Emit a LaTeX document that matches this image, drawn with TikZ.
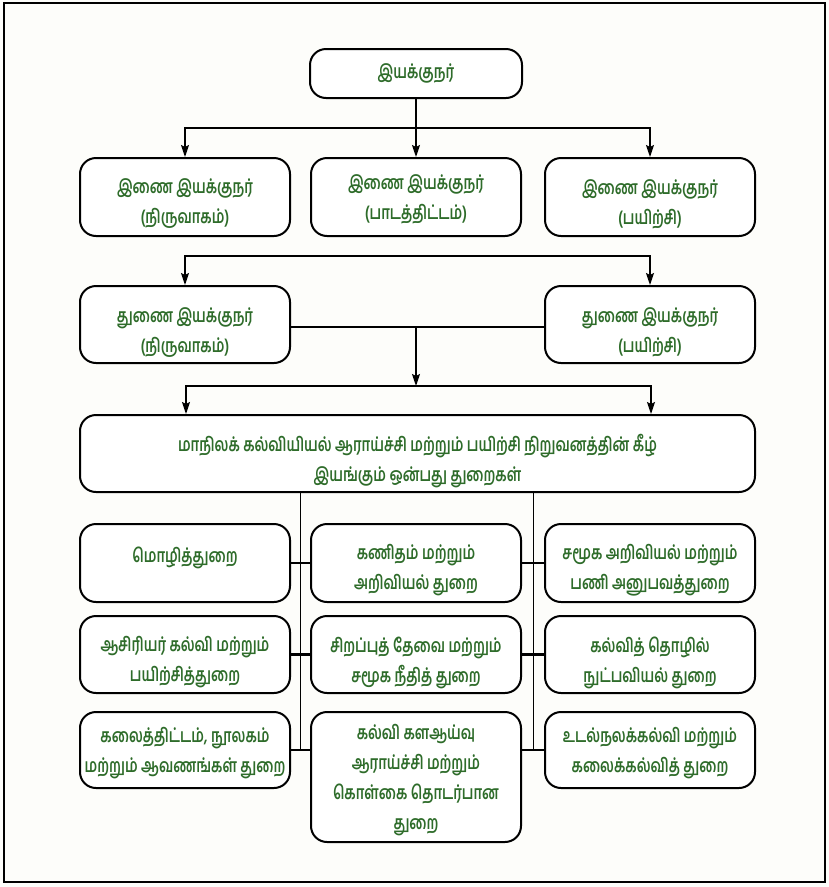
\documentclass[tikz,border=0pt]{standalone}
\usepackage{fontspec}
\newfontfamily\tam[Script=Tamil,FakeStretch=0.73]{Hind Madurai}
\usetikzlibrary{arrows.meta}
\definecolor{txtgreen}{RGB}{46,108,42}
\definecolor{bgpaper}{RGB}{253,253,250}
\newcommand{\dn}[2][6pt]{\raisebox{-#1}[\height][\depth]{#2}}
\begin{document}
\begin{tikzpicture}[x=1pt,y=-1pt,
  box/.style={draw=black,line width=2pt,rounded corners=16pt,fill=white,
    align=center,text=txtgreen,font=\tam\bfseries\fontsize{19}{30}\selectfont,inner sep=0pt},
  wbox/.style={box,minimum width=210pt},
  arr/.style={-{Stealth[length=12pt,width=8pt,inset=2pt]},line width=1.6pt},
  conn/.style={line width=1.6pt},
  thin/.style={line width=1pt},
  stub/.style={line width=2.2pt}]
\useasboundingbox (0,0) rectangle (829,887);
\fill[bgpaper] (0,0) rectangle (829,887);
\draw[line width=2.5pt] (4,3) rectangle (825,882);
% top
\node[box,minimum width=212pt,minimum height=49pt] (top) at (416,73.5) {இயக்குநர்};
% row 2
\node[wbox,minimum height=78pt] (j1) at (185,197) {\dn[7pt]{இணை இயக்குநர்}\\\dn[7pt]{(நிருவாகம்)}};
\node[wbox,minimum height=78pt] (j2) at (416,197) {\dn[2pt]{இணை இயக்குநர்}\\\dn[2pt]{(பாடத்திட்டம்)}};
\node[wbox,minimum height=78pt] (j3) at (650,197) {\dn[7pt]{இணை இயக்குநர்}\\\dn[7pt]{(பயிற்சி)}};
% row 3
\node[wbox,minimum height=77pt] (d1) at (185,324.5) {\dn[8pt]{துணை இயக்குநர்}\\\dn[8pt]{(நிருவாகம்)}};
\node[wbox,minimum height=77pt] (d2) at (650,324.5) {\dn[8pt]{துணை இயக்குநர்}\\\dn[8pt]{(பயிற்சி)}};
% big
\node[box,minimum width=675pt,minimum height=77pt] (big) at (417.5,453.5) {\dn[8pt]{மாநிலக் கல்வியியல் ஆராய்ச்சி மற்றும் பயிற்சி நிறுவனத்தின் கீழ்}\\\dn[8pt]{இயங்கும் ஒன்பது துறைகள்}};
% row 4
\node[wbox,minimum height=78pt] (a1) at (185,563) {\dn[-5pt]{மொழித்துறை}};
\node[wbox,minimum height=78pt] (a2) at (416,563) {\dn[7pt]{கணிதம் மற்றும்}\\\dn[7pt]{அறிவியல் துறை}};
\node[wbox,minimum height=78pt] (a3) at (650,563) {\dn[7pt]{சமூக அறிவியல் மற்றும்}\\\dn[7pt]{பணி அனுபவத்துறை}};
% row 5
\node[wbox,minimum height=77pt] (b1) at (185,654.5) {\dn[8pt]{ஆசிரியர் கல்வி மற்றும்}\\\dn[8pt]{பயிற்சித்துறை}};
\node[wbox,minimum height=77pt] (b2) at (416,654.5) {\dn[8pt]{சிறப்புத் தேவை மற்றும்}\\\dn[8pt]{சமூக நீதித் துறை}};
\node[wbox,minimum height=77pt] (b3) at (650,654.5) {\dn[8pt]{கல்வித் தொழில்}\\\dn[8pt]{நுட்பவியல் துறை}};
% row 6
\node[wbox,minimum height=76pt] (c1) at (185,750) {\dn[3pt]{கலைத்திட்டம், நூலகம்}\\\dn[3pt]{மற்றும் ஆவணங்கள் துறை}};
\node[wbox,minimum height=130pt] (c2) at (416,777) {\dn[3pt]{கல்வி களஆய்வு}\\\dn[3pt]{ஆராய்ச்சி மற்றும்}\\\dn[3pt]{கொள்கை தொடர்பான}\\\dn[3pt]{துறை}};
\node[wbox,minimum height=76pt] (c3) at (650,750) {\dn[3pt]{உடல்நலக்கல்வி மற்றும்}\\\dn[3pt]{கலைக்கல்வித் துறை}};
% connectors level 1
\coordinate (k1) at (416,128);
\draw[conn] (top.south) -- (k1);
\draw[arr] (k1) -- (j2.north);
\draw[arr] (k1) -| (j1.north);
\draw[arr] (k1) -| (j3.north);
% level 2 (floating bar)
\coordinate (k2) at (416,256);
\draw[arr] (k2) -| (d1.north);
\draw[arr] (k2) -| (d2.north);
% level 3
\coordinate (k3) at (416,327);
\coordinate (k4) at (416,386);
\draw[conn] (d1.east |- k3) -- (d2.west |- k3);
\draw[arr] (k3) -- (k4);
\draw[arr] (k4) -| ([xshift=-231.5pt]big.north);
\draw[arr] (k4) -| ([xshift=233.5pt]big.north);
% vertical spines
\coordinate (s1) at (300,750);
\coordinate (s2) at (533,750);
\draw[thin] (big.south -| s1) -- (s1);
\draw[thin] (big.south -| s2) -- (s2);
% stubs
\draw[stub] (a1.east) -- (a2.west);
\draw[stub] (a2.east) -- (a3.west);
\draw[stub] (b1.east) -- (b2.west);
\draw[stub] (b2.east) -- (b3.west);
\draw[stub] (c1.east) -- (c1.east -| c2.west);
\draw[stub] (c3.west) -- (c3.west -| c2.east);
\end{tikzpicture}
\end{document}
